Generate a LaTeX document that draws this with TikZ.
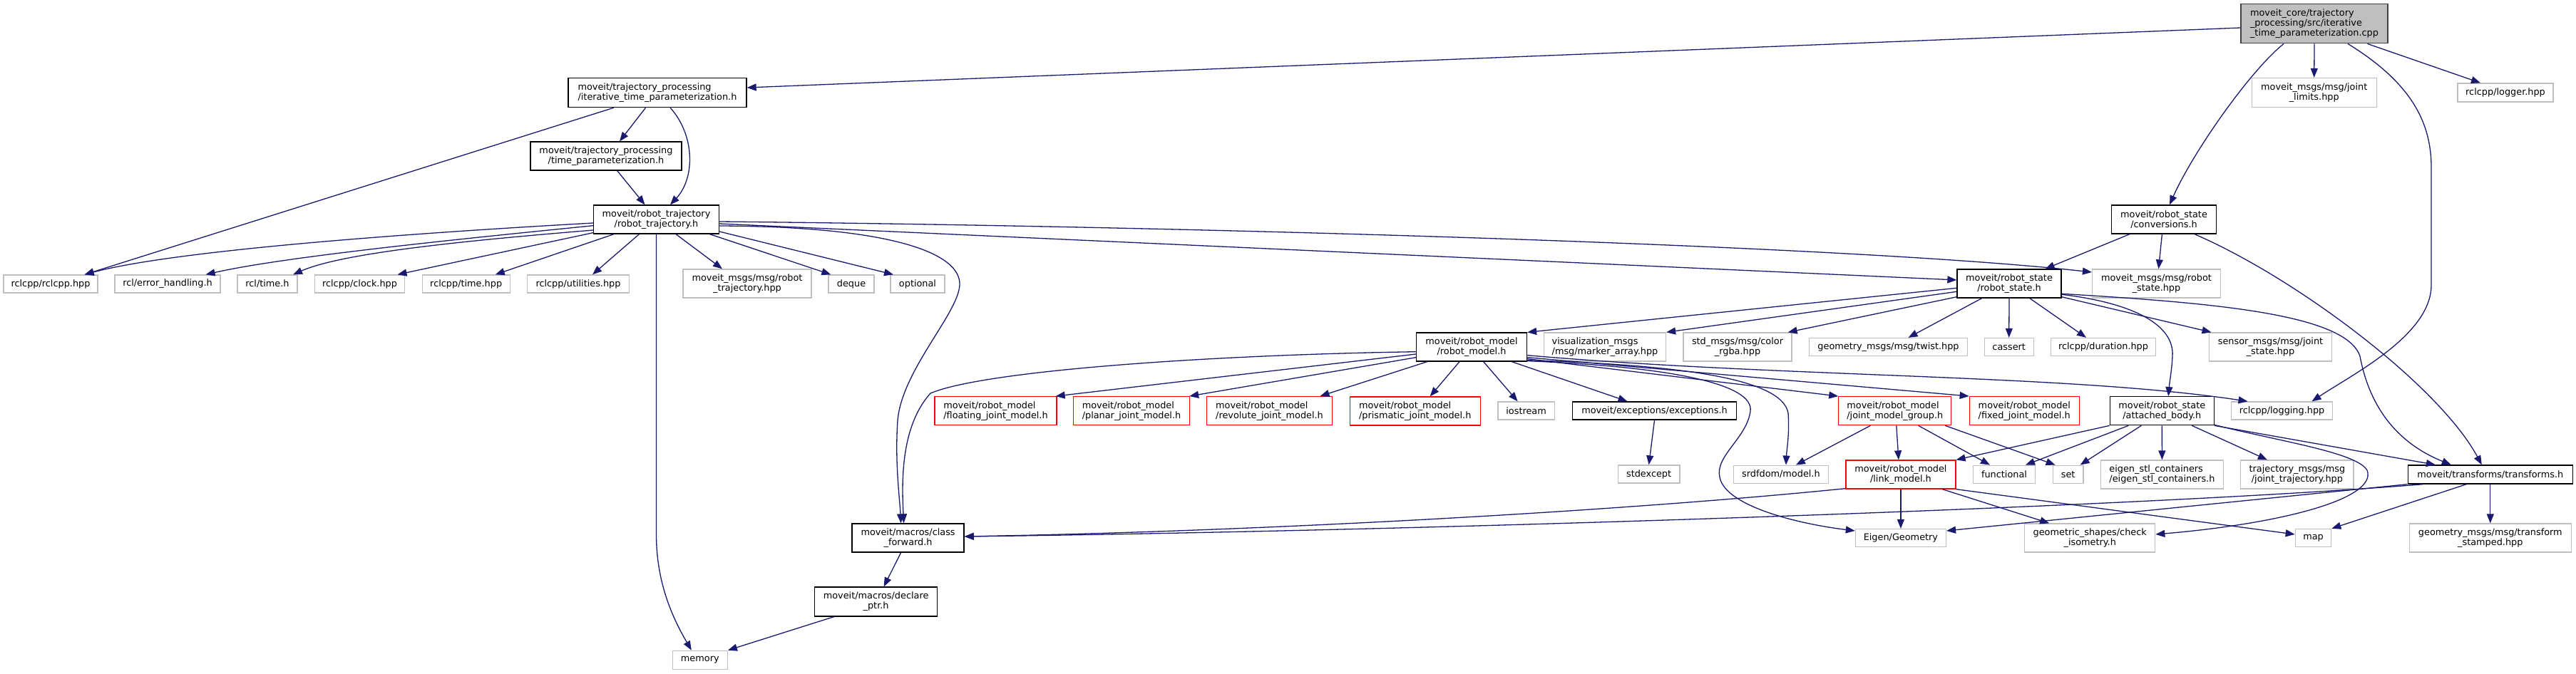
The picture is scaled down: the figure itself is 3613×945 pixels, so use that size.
\documentclass[tikz,border=0pt]{standalone}
\usepackage{fontspec}
\setmainfont{DejaVu Sans}
\usetikzlibrary{arrows.meta}
\definecolor{edgeblue}{HTML}{191970}
\definecolor{extgrey}{HTML}{BFBFBF}
\definecolor{srcgrey}{HTML}{BFBFBF}
\definecolor{srcline}{HTML}{404040}
\definecolor{truncred}{HTML}{FF0000}
\begin{document}
\begin{tikzpicture}[x=1pt,y=-1pt,
  nbox/.style={draw, line width=1.3pt, inner sep=0pt, font=\fontsize{12.85}{14}\selectfont, text=black},
  docn/.style={nbox, draw=black, fill=white},
  extn/.style={nbox, draw=extgrey, fill=white},
  trn/.style={nbox, draw=truncred, fill=white},
  srcn/.style={nbox, draw=srcline, fill=srcgrey},
  dep/.style={draw=edgeblue, line width=1.3pt, -{Triangle[length=13pt,width=10pt]}},
  sz/.style 2 args={minimum width=#1pt, minimum height=#2pt}
]
\useasboundingbox (0,0) rectangle (3613,945);

% ---- nodes ----
\node[srcn, sz={206}{55}, align=left] (src) at (3246,33.3) {moveit\_core/trajectory\\\_processing/src/iterative\\\_time\_parameterization.cpp};
\node[docn, sz={250}{41}, align=left] (iter) at (922,130) {moveit/trajectory\_processing\\/iterative\_time\_parameterization.h};
\node[extn, sz={175}{41}, align=center] (jlim) at (3245.7,130) {moveit\_msgs/msg/joint\\\_limits.hpp};
\node[extn, sz={134}{26}] (logger) at (3514,130) {rclcpp/logger.hpp};
\node[docn, sz={212}{40}, align=center] (tp) at (850,219) {moveit/trajectory\_processing\\/time\_parameterization.h};
\node[docn, sz={176}{40}, align=center] (rt) at (920.5,308) {moveit/robot\_trajectory\\/robot\_trajectory.h};
\node[docn, sz={147}{40}, align=center] (conv) at (3035,308) {moveit/robot\_state\\/conversions.h};

\node[extn, sz={132}{25}] (rclcpp) at (71,398.5) {rclcpp/rclcpp.hpp};
\node[extn, sz={148}{25}] (errh) at (235,398.5) {rcl/error\_handling.h};
\node[extn, sz={84}{25}] (rcltime) at (375,398.5) {rcl/time.h};
\node[extn, sz={126.5}{25}] (clock) at (504.5,398.5) {rclcpp/clock.hpp};
\node[extn, sz={123}{25}] (rtime) at (653.7,398.5) {rclcpp/time.hpp};
\node[extn, sz={143}{25}] (util) at (811,398.5) {rclcpp/utilities.hpp};
\node[extn, sz={180}{40}, align=center] (rtraj) at (1048,398) {moveit\_msgs/msg/robot\\\_trajectory.hpp};
\node[extn, sz={64}{25}] (deque) at (1194,398.5) {deque};
\node[extn, sz={76}{25}] (optional) at (1287,398.5) {optional};
\node[docn, sz={146}{40}, align=center] (rs) at (2818,398) {moveit/robot\_state\\/robot\_state.h};
\node[extn, sz={180}{40}, align=center] (rsmsg) at (3024.5,398) {moveit\_msgs/msg/robot\\\_state.hpp};

\node[docn, sz={155}{40}, align=center] (rm) at (2064,487) {moveit/robot\_model\\/robot\_model.h};
\node[extn, sz={171}{40}, align=left] (marker) at (2251,487) {visualization\_msgs\\/msg/marker\_array.hpp};
\node[extn, sz={152}{40}, align=center] (color) at (2437,487) {std\_msgs/msg/color\\\_rgba.hpp};
\node[extn, sz={222.6}{25}] (twist) at (2648.5,487) {geometry\_msgs/msg/twist.hpp};
\node[extn, sz={69}{25}] (cassert) at (2817.7,487) {cassert};
\node[extn, sz={147}{25}] (duration) at (2950,487) {rclcpp/duration.hpp};
\node[extn, sz={172}{40}, align=center] (sensor) at (3184.5,487) {sensor\_msgs/msg/joint\\\_state.hpp};

\node[trn, sz={171}{40}, align=left] (floating) at (1396.5,576.7) {moveit/robot\_model\\/floating\_joint\_model.h};
\node[trn, sz={163}{40}, align=left] (planar) at (1587,576.7) {moveit/robot\_model\\/planar\_joint\_model.h};
\node[trn, sz={176.5}{40}, align=left] (revolute) at (1780.5,576.7) {moveit/robot\_model\\/revolute\_joint\_model.h};
\node[trn, sz={183}{40}, align=left] (prismatic) at (1984.7,577) {moveit/robot\_model\\/prismatic\_joint\_model.h};
\node[extn, sz={79.5}{25}] (iostream) at (2140.6,576.5) {iostream};
\node[docn, sz={230}{25}] (exceptions) at (2320.5,576.5) {moveit/exceptions/exceptions.h};
\node[trn, sz={158}{40}, align=left] (jmg) at (2657.8,576.7) {moveit/robot\_model\\/joint\_model\_group.h};
\node[trn, sz={154}{40}, align=left] (fixed) at (2839.3,576.7) {moveit/robot\_model\\/fixed\_joint\_model.h};
\node[docn, sz={146}{40}, align=center] (ab) at (3032.3,576.7) {moveit/robot\_state\\/attached\_body.h};
\node[extn, sz={141.5}{25}] (logging) at (3200.5,576.5) {rclcpp/logging.hpp};

\node[extn, sz={86.7}{25}] (stdexcept) at (2312.6,665.5) {stdexcept};
\node[extn, sz={132.5}{25}] (srdf) at (2497.9,665.7) {srdfdom/model.h};
\node[trn, sz={154}{40}, align=center] (lm) at (2665.9,666) {moveit/robot\_model\\/link\_model.h};
\node[extn, sz={86.6}{25}] (functional) at (2811,665.7) {functional};
\node[extn, sz={42.7}{25}] (set) at (2900.6,665.7) {set};
\node[extn, sz={172}{40}, align=left] (eigenstl) at (3032.4,666) {eigen\_stl\_containers\\/eigen\_stl\_containers.h};
\node[extn, sz={158.3}{40}, align=center] (jtraj) at (3221.9,666) {trajectory\_msgs/msg\\/joint\_trajectory.hpp};
\node[docn, sz={231}{26}] (tf) at (3492.8,666) {moveit/transforms/transforms.h};

\node[docn, sz={157}{40}, align=center] (cf) at (1273.6,755) {moveit/macros/class\\\_forward.h};
\node[extn, sz={127}{25}] (eigen) at (2665.9,755) {Eigen/Geometry};
\node[extn, sz={183}{40}, align=center] (check) at (2931.2,755) {geometric\_shapes/check\\\_isometry.h};
\node[extn, sz={50.4}{25}] (map) at (3244.5,755) {map};
\node[extn, sz={227}{40}, align=center] (tfst) at (3492.8,755) {geometry\_msgs/msg/transform\\\_stamped.hpp};
\node[docn, sz={172}{41}, align=center] (dp) at (1228.6,844.5) {moveit/macros/declare\\\_ptr.h};
\node[extn, sz={77}{26}] (memory) at (981.8,926.3) {memory};

% ---- edges: source ----
\draw[dep] ([shift={(0,5.7)}]src.west) -- ([shift={(0,-7)}]iter.east);
\draw[dep] ([shift={(-43,0)}]src.south) .. controls (3155,100) and (3075,215) .. ([shift={(8,0)}]conv.north);
\draw[dep] (src.south) -- (jlim.north);
\draw[dep] ([shift={(47,0)}]src.south) .. controls (3380,115) and (3410,170) .. (3410,235) -- (3410,400) .. controls (3410,470) and (3300,525) .. ([shift={(42,0)}]logging.north);
\draw[dep] ([shift={(74.5,0)}]src.south) -- ([shift={(-35,0)}]logger.north);

% ---- iterative / time param ----
\draw[dep] ([shift={(-16.4,0)}]iter.south) -- ([shift={(19,0)}]tp.north);
\draw[dep] ([shift={(18,0)}]iter.south) .. controls (975,190) and (975,250) .. ([shift={(19.5,0)}]rt.north);
\draw[dep] ([shift={(-61,0)}]iter.south) -- ([shift={(47.6,0)}]rclcpp.north);
\draw[dep] ([shift={(15.7,0)}]tp.south) -- ([shift={(-16,0)}]rt.north);

% ---- robot_trajectory ----
\draw[dep] ([shift={(0,5)}]rt.west) .. controls (600,326) and (250,350) .. ([shift={(47.6,0)}]rclcpp.north);
\draw[dep] ([shift={(0,8.7)}]rt.west) .. controls (650,335) and (400,360) .. ([shift={(53.6,0)}]errh.north);
\draw[dep] ([shift={(0,15)}]rt.west) .. controls (650,338) and (480,355) .. ([shift={(36,0)}]rcltime.north);
\draw[dep] ([shift={(0,-2)}]rt.south west) -- ([shift={(53,0)}]clock.north);
\draw[dep] ([shift={(-59.5,0)}]rt.south) -- ([shift={(41,0)}]rtime.north);
\draw[dep] ([shift={(-24,0)}]rt.south) -- ([shift={(20,0)}]util.north);
\draw[dep] ([shift={(27.5,0)}]rt.south) -- ([shift={(-35,0)}]rtraj.north);
\draw[dep] ([shift={(75,0)}]rt.south) -- ([shift={(-28.6,0)}]deque.north);
\draw[dep] ([shift={(0,17)}]rt.east) -- ([shift={(-34,0)}]optional.north);
\draw[dep] (rt.south) -- (920.5,750) .. controls (920.5,820) and (945,870) .. ([shift={(-12,0)}]memory.north);
\draw[dep] ([shift={(0,9)}]rt.east) .. controls (1250,318) and (1348,355) .. (1346,400) .. controls (1344,440) and (1265,520) .. (1259,590) .. controls (1255,650) and (1262,700) .. ([shift={(-10,0)}]cf.north);
\draw[dep] ([shift={(0,6)}]rt.east) -- ([shift={(0,-5)}]rs.west);
\draw[dep] ([shift={(0,3)}]rt.east) .. controls (1700,318) and (2600,345) .. ([shift={(0,-16)}]rsmsg.west);

% ---- conversions ----
\draw[dep] ([shift={(-48,0)}]conv.south) -- ([shift={(50.6,0)}]rs.north);
\draw[dep] ([shift={(-2.6,0)}]conv.south) -- ([shift={(3,0)}]rsmsg.north);
\draw[dep] ([shift={(43,0)}]conv.south) .. controls (3220,390) and (3420,540) .. ([shift={(-12,0)}]tf.north);

% ---- robot_state ----
\draw[dep] ([shift={(0,6.3)}]rs.west) -- (rm.north east);
\draw[dep] ([shift={(0,11.3)}]rs.west) -- (marker.north east);
\draw[dep] ([shift={(0,18.7)}]rs.west) -- ([shift={(-6,0)}]color.north east);
\draw[dep] ([shift={(-38.4,0)}]rs.south) -- ([shift={(28,0)}]twist.north);
\draw[dep] (rs.south) -- (cassert.north);
\draw[dep] ([shift={(28.8,0)}]rs.south) -- ([shift={(-24,0)}]duration.north);
\draw[dep] ([shift={(0,18.7)}]rs.east) -- ([shift={(-83,0)}]sensor.north);
\draw[dep] ([shift={(0,15.3)}]rs.east) .. controls (2990,425) and (3050,455) .. (3047,500) .. controls (3046,520) and (3043,535) .. ([shift={(9,0)}]ab.north);
\draw[dep] ([shift={(0,14.3)}]rs.east) .. controls (3100,425) and (3290,440) .. (3310,500) .. controls (3325,580) and (3370,625) .. ([shift={(-55,0)}]tf.north);

% ---- robot_model ----
\draw[dep] ([shift={(0,10)}]rm.west) -- ([shift={(-2,0)}]floating.north east);
\draw[dep] ([shift={(0,14.7)}]rm.west) -- ([shift={(-1,0)}]planar.north east);
\draw[dep] ([shift={(-62.3,0)}]rm.south) -- ([shift={(71,0)}]revolute.north);
\draw[dep] ([shift={(-17,0)}]rm.south) -- ([shift={(21,0)}]prismatic.north);
\draw[dep] ([shift={(16.7,0)}]rm.south) -- ([shift={(-12,0)}]iostream.north);
\draw[dep] ([shift={(56.3,0)}]rm.south) -- ([shift={(-38,0)}]exceptions.north);
\draw[dep] ([shift={(0,6.7)}]rm.west) .. controls (1700,498) and (1380,520) .. (1305,552) .. controls (1262,600) and (1265,680) .. ([shift={(-6,0)}]cf.north);
\draw[dep] ([shift={(0,-4)}]rm.south east) -- (jmg.north west);
\draw[dep] ([shift={(0,-6)}]rm.south east) -- (fixed.north west);
\draw[dep] ([shift={(0,-2)}]rm.south east) .. controls (2350,512) and (2500,530) .. (2508,580) .. controls (2510,610) and (2506,630) .. ([shift={(7,0)}]srdf.north);
\draw[dep] ([shift={(0,-1)}]rm.south east) .. controls (2350,515) and (2460,540) .. (2455,577) .. controls (2450,615) and (2405,640) .. (2412,670) .. controls (2420,710) and (2520,735) .. ([shift={(0,-10)}]eigen.west);
\draw[dep] ([shift={(0,-9)}]rm.south east) .. controls (2500,530) and (2900,525) .. ([shift={(-48,0)}]logging.north);

% ---- joint_model_group ----
\draw[dep] ([shift={(-34.4,0)}]jmg.south) -- ([shift={(21,0)}]srdf.north);
\draw[dep] ([shift={(2,0)}]jmg.south) -- ([shift={(-3,0)}]lm.north);
\draw[dep] ([shift={(32.8,0)}]jmg.south) -- ([shift={(-20,0)}]functional.north);
\draw[dep] ([shift={(70.4,0)}]jmg.south) -- ([shift={(-18,0)}]set.north);

% ---- attached_body ----
\draw[dep] (ab.south west) -- (lm.north east);
\draw[dep] ([shift={(-47,0)}]ab.south) -- ([shift={(30,0)}]functional.north);
\draw[dep] ([shift={(-29,0)}]ab.south) -- ([shift={(17,0)}]set.north);
\draw[dep] (ab.south) -- (eigenstl.north);
\draw[dep] ([shift={(42,0)}]ab.south) -- ([shift={(-42,0)}]jtraj.north);
\draw[dep] (ab.south east) -- ([shift={(-77,0)}]tf.north);
\draw[dep] ([shift={(0,-1)}]ab.south east) .. controls (3200,620) and (3305,635) .. (3320,660) .. controls (3335,700) and (3200,735) .. ([shift={(0,-5)}]check.east);

% ---- link_model ----
\draw[dep] (lm.south) -- (eigen.north);
\draw[dep] ([shift={(58.3,0)}]lm.south) -- ([shift={(-57,0)}]check.north);
\draw[dep] (lm.south east) -- ([shift={(0,-5)}]map.west);
\draw[dep] ([shift={(0,-1)}]lm.south west) .. controls (2300,715) and (1800,745) .. ([shift={(0,-2)}]cf.east);

% ---- transforms ----
\draw[dep] ([shift={(22,0)}]tf.south west) .. controls (3000,712) and (2000,745) .. ([shift={(0,-2)}]cf.east);
\draw[dep] (tf.south west) -- ([shift={(0,-10)}]eigen.east);
\draw[dep] ([shift={(-33.5,0)}]tf.south) -- (map.north east);
\draw[dep] (tf.south) -- (tfst.north);

% ---- others ----
\draw[dep] (exceptions.south) -- (stdexcept.north);
\draw[dep] ([shift={(-10,0)}]cf.south) -- ([shift={(11,0)}]dp.north);
\draw[dep] ([shift={(-59,0)}]dp.south) -- (memory.north east);
\end{tikzpicture}
\end{document}
